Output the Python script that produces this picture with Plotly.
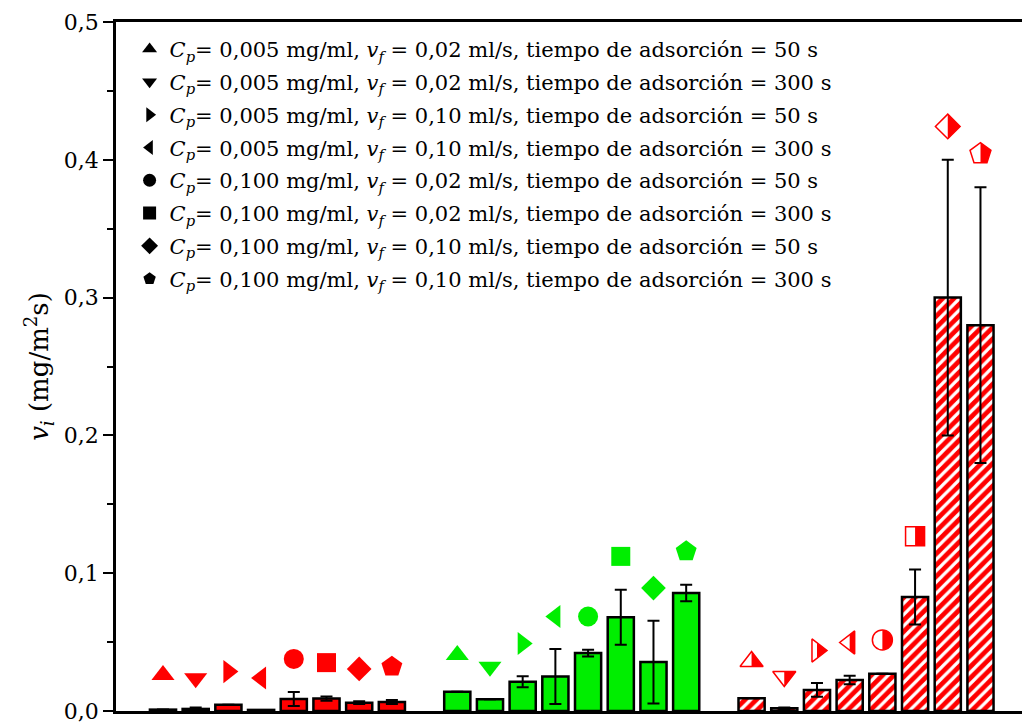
import math
import plotly.graph_objects as go

# ---------------- data ----------------
symbols = ["triangle-up", "triangle-down", "triangle-right", "triangle-left",
           "circle", "square", "diamond", "pentagon"]
legend_labels = [
    "<i>C<sub>p</sub></i>= 0,005 mg/ml, <i>v<sub>f</sub></i> = 0,02 ml/s, tiempo de adsorción = 50 s",
    "<i>C<sub>p</sub></i>= 0,005 mg/ml, <i>v<sub>f</sub></i> = 0,02 ml/s, tiempo de adsorción = 300 s",
    "<i>C<sub>p</sub></i>= 0,005 mg/ml, <i>v<sub>f</sub></i> = 0,10 ml/s, tiempo de adsorción = 50 s",
    "<i>C<sub>p</sub></i>= 0,005 mg/ml, <i>v<sub>f</sub></i> = 0,10 ml/s, tiempo de adsorción = 300 s",
    "<i>C<sub>p</sub></i>= 0,100 mg/ml, <i>v<sub>f</sub></i> = 0,02 ml/s, tiempo de adsorción = 50 s",
    "<i>C<sub>p</sub></i>= 0,100 mg/ml, <i>v<sub>f</sub></i> = 0,02 ml/s, tiempo de adsorción = 300 s",
    "<i>C<sub>p</sub></i>= 0,100 mg/ml, <i>v<sub>f</sub></i> = 0,10 ml/s, tiempo de adsorción = 50 s",
    "<i>C<sub>p</sub></i>= 0,100 mg/ml, <i>v<sub>f</sub></i> = 0,10 ml/s, tiempo de adsorción = 300 s",
]

# group 1 (red, solid)
g1_values = [0.001, 0.0015, 0.0045, 0.0008, 0.0087, 0.009, 0.006, 0.0065]
g1_errors = [None, 0.001, None, None, 0.005, 0.0015, 0.001, 0.0015]
g1_marker_y = [0.0262, 0.0238, 0.0286, 0.0240, 0.0378, 0.0351, 0.0305, 0.0322]

# group 2 (green, solid)
g2_values = [0.014, 0.0085, 0.0213, 0.025, 0.042, 0.068, 0.0355, 0.0856]
g2_errors = [None, None, 0.004, 0.020, 0.0025, 0.020, 0.030, 0.006]
g2_marker_y = [0.0407, 0.0322, 0.0490, 0.0686, 0.0686, 0.1122, 0.0892, 0.1159]

# group 3 (red, hatched)
g3_values = [0.0092, 0.002, 0.0153, 0.0225, 0.0271, 0.0827, 0.300, 0.280]
g3_errors = [None, 0.0005, 0.005, 0.003, None, 0.020, 0.100, 0.100]
g3_marker_y = [0.0359, 0.0250, 0.0439, 0.0497, 0.0516, 0.1268, 0.4242, 0.4044]

RED = "#ff0000"
GREEN = "#00ee00"
FONT = "DejaVu Serif"
MSIZE = [20, 20, 20, 20, 20, 19, 19, 22]

# bar slots: 8 bars per group, 1 empty slot between groups
def positions(g):
    return [g * 9 + i for i in range(8)]

fig = go.Figure()

groups = [
    (g1_values, g1_errors, g1_marker_y, RED, False),
    (g2_values, g2_errors, g2_marker_y, GREEN, False),
    (g3_values, g3_errors, g3_marker_y, RED, True),
]

for gi, (vals, errs, my, col, hatched) in enumerate(groups):
    xs = positions(gi)
    marker = dict(color=col, line=dict(color="black", width=2.5))
    if hatched:
        marker["pattern"] = dict(shape="/", bgcolor=col, fgcolor="white",
                                 size=8, solidity=0.4, fillmode="replace")
    fig.add_trace(go.Bar(
        x=xs, y=vals, width=0.8, marker=marker, showlegend=False,
        error_y=dict(type="data", array=errs, visible=True,
                     color="black", thickness=2, width=6),
    ))
    if hatched:
        fig.add_trace(go.Scatter(
            x=xs, y=my, mode="markers", showlegend=False,
            marker=dict(symbol=[s + "-open" for s in symbols], size=MSIZE, opacity=1,
                        color=col, line=dict(color=col, width=1.5)),
        ))
    else:
        fig.add_trace(go.Scatter(
            x=xs, y=my, mode="markers", showlegend=False,
            marker=dict(symbol=symbols, size=MSIZE, color=col, opacity=1,
                        line=dict(width=0)),
        ))

# right-half fills for the half-filled markers (pixel paths anchored at data points)
def half_path(sym, size):
    r = size / 2.0
    rt = r * 2 / math.sqrt(3)
    if sym == "triangle-up":
        pts = [(0, -r / 2), (rt, -r / 2), (0, r)]
    elif sym == "triangle-down":
        pts = [(0, r / 2), (rt, r / 2), (0, -r)]
    elif sym == "triangle-right":
        pts = [(0, -2 * rt / 3), (0, 2 * rt / 3), (r, 0)]
    elif sym == "triangle-left":
        pts = [(0, -2 * rt / 3), (r / 2, -rt), (r / 2, rt), (0, 2 * rt / 3)]
    elif sym == "circle":
        pts = [(r * math.sin(math.pi * k / 24), r * math.cos(math.pi * k / 24)) for k in range(25)]
    elif sym == "square":
        pts = [(0, -r), (r, -r), (r, r), (0, r)]
    elif sym == "diamond":
        rd = r * 1.3
        pts = [(0, -rd), (rd, 0), (0, rd)]
    else:  # pentagon
        pts = [(0, r), (0.951 * r, 0.309 * r), (0.588 * r, -0.809 * r), (0, -0.809 * r)]
    return "M " + " L ".join(f"{x:.2f},{y:.2f}" for x, y in pts) + " Z"

for xv, yv, sym, sz in zip(positions(2), g3_marker_y, symbols, MSIZE):
    fig.add_shape(type="path", xref="x", yref="y", xsizemode="pixel", ysizemode="pixel",
                  xanchor=xv, yanchor=yv, path=half_path(sym, sz),
                  fillcolor=RED, line=dict(width=0), layer="above")

# legend entries (black symbols)
for sym, lab in zip(symbols, legend_labels):
    fig.add_trace(go.Scatter(
        x=[None], y=[None], mode="markers", name=lab, legendgroup=lab,
        marker=dict(symbol=sym, color="black", size=13),
    ))

fig.update_layout(
    width=1022, height=724,
    margin=dict(l=116, r=0, t=22, b=13),
    plot_bgcolor="white", paper_bgcolor="white",
    separators=", ",
    font=dict(family=FONT, size=20, color="black"),
    showlegend=True,
    legend=dict(x=0.015, y=0.99, xanchor="left", yanchor="top",
                bgcolor="rgba(0,0,0,0)", borderwidth=0,
                font=dict(family=FONT, size=21), tracegroupgap=2.5,
                itemsizing="trace"),
    bargap=0.2,
)
fig.update_xaxes(range=[-1.437, 26.27], showline=True, linecolor="black", linewidth=2.5,
                 mirror=True, ticks="", showticklabels=False, showgrid=False, zeroline=False)
fig.update_yaxes(range=[0, 0.5], dtick=0.1, tick0=0, tickformat=".1f",
                 showline=True, linecolor="black", linewidth=2.5, mirror=False,
                 ticks="outside", ticklen=10, tickwidth=2, tickcolor="black",
                 minor=dict(dtick=0.05, ticks="outside", ticklen=6, tickwidth=2, tickcolor="black"),
                 showgrid=False, zeroline=False, ticklabeloverflow="allow",
                 tickfont=dict(family=FONT, size=22),
                 title=dict(text="<i>v<sub>i</sub></i> (mg/m<sup>2</sup>s)",
                            font=dict(family=FONT, size=26), standoff=8))

fig.write_html("out.html", config={"displayModeBar": False},
               post_script="document.body.style.margin='0';")
